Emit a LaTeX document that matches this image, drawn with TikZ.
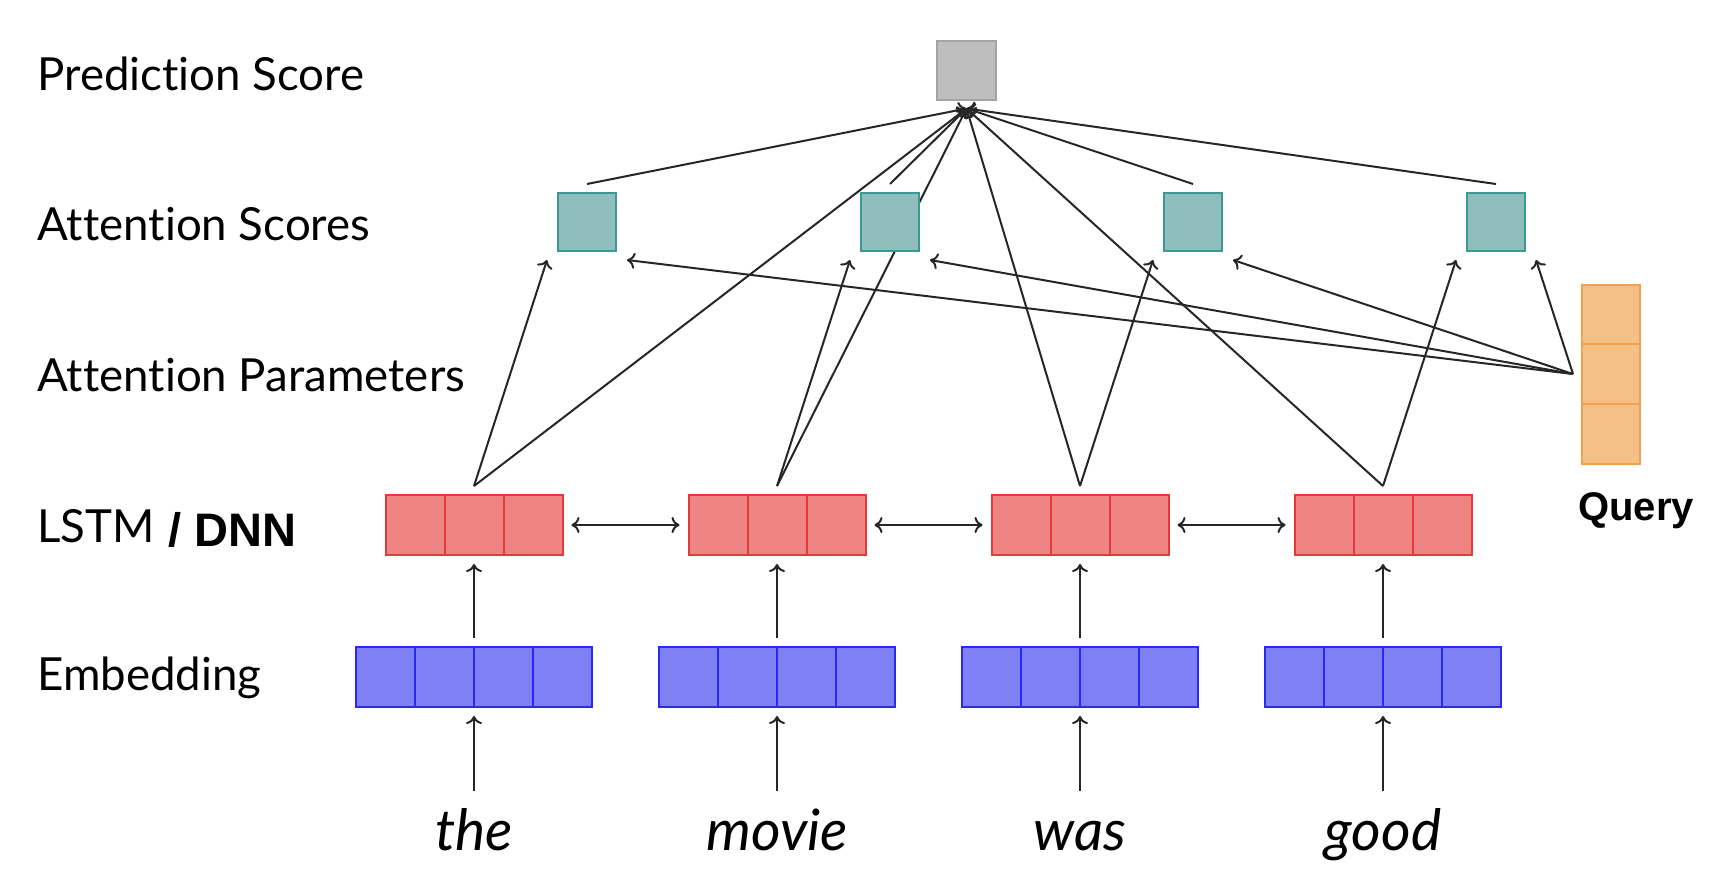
\documentclass[tikz,border=0pt]{standalone}
\usepackage{fontspec}
\usepackage{tikz}
\usetikzlibrary{arrows.meta}
\usetikzlibrary{calc}
\usetikzlibrary{positioning}
\usetikzlibrary{backgrounds}
\newfontfamily\LabelFont[Ligatures=NoCommon]{Lato}
\newfontfamily\BoldSans{Liberation Sans}

\begin{document}
\begin{tikzpicture}[x=0.5pt, y=-0.5pt, >={To[length=4pt,width=8pt]},
	vec/.style={rectangle, inner sep=0pt, outer sep=4.5pt, line width=1pt},
	embvec/.style={vec, draw=EmbLine, fill=EmbFill, minimum width=118pt, minimum height=30pt},
	lstmvec/.style={vec, draw=LstmLine, fill=LstmFill, minimum width=88.5pt, minimum height=30pt},
	attbox/.style={vec, draw=AttLine, fill=AttFill, minimum size=29pt},
	predbox/.style={vec, draw=PredLine, fill=PredFill, minimum size=29.5pt},
	querybox/.style={vec, draw=QueryLine, fill=QueryFill, minimum width=29pt, minimum height=89.5pt},
	link/.style={->, draw=black!85, line width=1pt},
	rowlabel/.style={anchor=base west, inner sep=0pt, font=\LabelFont\fontsize{22.8pt}{27pt}\selectfont},
	boldlabel/.style={anchor=base west, inner sep=0pt, font=\BoldSans\bfseries\fontsize{#1}{#1}\selectfont},
	word/.style={anchor=base, inner sep=0pt, outer sep=4.5pt, text height=25pt, font=\LabelFont\itshape\fontsize{28.5pt}{32pt}\selectfont}]
	\def\ColStart{474}
	\def\ColGap{303}
	\def\CellW{59}
	\def\AttShift{113}
	%%%%%%%%%%%%%%%%%%%%%%%%%%%%%%%%%%%%%%%%%%%%%%%%%%%%%%%%%%
	\definecolor{EmbFill}{HTML}{8080F5}
	\definecolor{EmbLine}{HTML}{2A2AF2}
	\definecolor{LstmFill}{HTML}{EF8583}
	\definecolor{LstmLine}{HTML}{E6393A}
	\definecolor{AttFill}{HTML}{8FBEBD}
	\definecolor{AttLine}{HTML}{3A9896}
	\definecolor{PredFill}{HTML}{BEBEBE}
	\definecolor{PredLine}{HTML}{A4A4A4}
	\definecolor{QueryFill}{HTML}{F5C085}
	\definecolor{QueryLine}{HTML}{F0A04E}
	%%%%%%%%%%%%%%%%%%%%%%%%%%%%%%%%%%%%%%%%%%%%%%%%%%%%%%%%%%
	\useasboundingbox (0,0) rectangle (1722,874);

	% row labels
	\node[rowlabel] (lpred) at (37,90) {Prediction Score};
	\node[rowlabel] (latt) at (37,240) {Attention Scores};
	\node[rowlabel] (lpar) at (37,391.7) {Attention Parameters};
	\node[rowlabel] (llstm) at (37,542.7) {LSTM};
	\node[boldlabel=23.5pt] (ldnn) at (168,546.7) {/ DNN};
	\node[rowlabel] (lemb) at (37,690.7) {Embedding};

	% prediction score
	\node[predbox] (p) at (966.5,70) {};

	% query vector
	\node[querybox] (q) at (1611,374) {};
	\foreach \y in {344,404}
		\draw[QueryLine, line width=1pt] (1582,\y) -- (1640,\y);
	\node[boldlabel=20pt] (lquery) at (1578,520) {Query};

	% one column per word
	\foreach \i/\w in {1/the,2/movie,3/was,4/good} {
		\pgfmathsetmacro\x{\ColStart+(\i-1)*\ColGap}
		\node[word] (w\i) at (\x,850) {\w};
		\node[embvec] (e\i) at (\x,677) {};
		\foreach \k in {-1,0,1}
			\draw[EmbLine, line width=1pt] (\x+\k*\CellW,647) -- (\x+\k*\CellW,707);
		\node[lstmvec] (l\i) at (\x,525) {};
		\foreach \k in {-0.5,0.5}
			\draw[LstmLine, line width=1pt] (\x+\k*\CellW,495) -- (\x+\k*\CellW,555);
		\node[attbox] (a\i) at (\x+\AttShift,222) {};
		\coordinate (a\i-left) at ($(a\i.south)+(-40,0)$);
		\coordinate (a\i-right) at ($(a\i.south)+(40,0)$);
	}

	% connectors behind the boxes
	\begin{scope}[on background layer]
		\foreach \i in {1,...,4} {
			\draw[link] (w\i.north) -- (e\i.south);
			\draw[link] (e\i.north) -- (l\i.south);
			\draw[link] (l\i.north) -- (a\i-left);
			\draw[link] (q.west) -- (a\i-right);
			\draw[link] (l\i.north) -- (p.south);
			\draw[link] (a\i.north) -- (p.south);
		}
		\foreach \i/\j in {1/2,2/3,3/4}
			\draw[link, <->] (l\i.east) -- (l\j.west);
	\end{scope}
\end{tikzpicture}
\end{document}
